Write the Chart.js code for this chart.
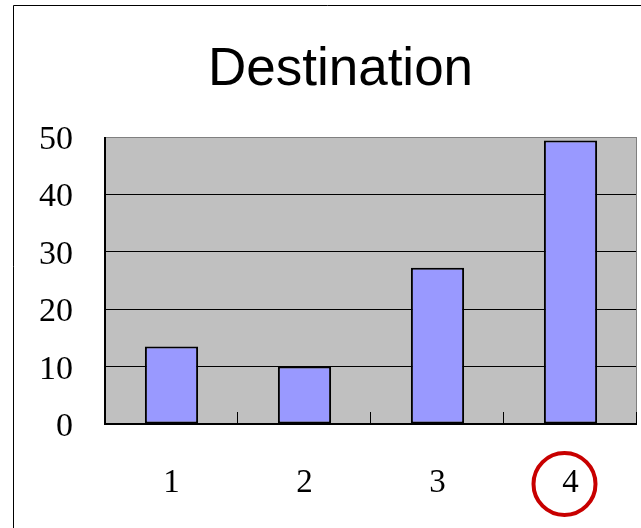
<!DOCTYPE html>
<html>
<head>
<meta charset="utf-8">
<script src="https://cdn.jsdelivr.net/npm/chart.js@4/dist/chart.umd.min.js"></script>
<style>
html,body{margin:0;padding:0;background:#fff;}
#wrap{position:relative;width:641px;height:528px;}
</style>
</head>
<body>
<div id="wrap"><canvas id="c" width="641" height="528"></canvas></div>
<script>
const categories = ['1', '2', '3', '4'];
const values = [13.5, 10, 27.2, 49.4];
const yTicks = [0, 10, 20, 30, 40, 50];
const titleText = 'Destination';
const highlightIndex = 3;

const framePlugin = {
  id: 'frame',
  afterLayout(chart) {
    const t = chart.titleBlock;
    if (t) { t.left = 44; t.right = chart.chartArea.right; }
  },
  beforeDraw(chart) {
    const ctx = chart.ctx, a = chart.chartArea;
    ctx.save();
    ctx.fillStyle = '#ffffff';
    ctx.fillRect(0, 0, chart.width, chart.height);
    ctx.strokeStyle = '#000';
    ctx.lineWidth = 1;
    ctx.beginPath();
    ctx.moveTo(13.5, chart.height);
    ctx.lineTo(13.5, 5.5);
    ctx.lineTo(chart.width, 5.5);
    ctx.stroke();
    ctx.fillStyle = '#C0C0C0';
    ctx.fillRect(a.left, a.top, a.right - a.left, a.bottom - a.top);
    ctx.restore();
  },
  afterDatasetsDraw(chart) {
    const ctx = chart.ctx, a = chart.chartArea, xs = chart.scales.x;
    ctx.save();
    ctx.strokeStyle = '#808080';
    ctx.lineWidth = 1;
    ctx.beginPath();
    ctx.moveTo(a.left, a.top + 0.5);
    ctx.lineTo(a.right - 0.5, a.top + 0.5);
    ctx.lineTo(a.right - 0.5, a.bottom);
    ctx.stroke();
    ctx.strokeStyle = '#000';
    const step = xs.getPixelForValue(1) - xs.getPixelForValue(0);
    for (let i = 0; i < categories.length; i++) {
      const x = Math.round(xs.getPixelForValue(i) + step / 2) - 0.5;
      ctx.beginPath();
      ctx.moveTo(x, a.bottom);
      ctx.lineTo(x, a.bottom - 12);
      ctx.stroke();
    }
    ctx.lineWidth = 2;
    ctx.beginPath();
    ctx.moveTo(a.left, a.top);
    ctx.lineTo(a.left, a.bottom);
    ctx.lineTo(a.right, a.bottom);
    ctx.stroke();
    ctx.restore();
  },
  afterDraw(chart) {
    const ctx = chart.ctx, xs = chart.scales.x, a = chart.chartArea;
    const cx = xs.getPixelForValue(highlightIndex) - 6;
    const cy = a.bottom + 60;
    ctx.save();
    ctx.strokeStyle = '#C80000';
    ctx.lineWidth = 4;
    ctx.beginPath();
    ctx.arc(cx, cy, 31, 0, Math.PI * 2);
    ctx.stroke();
    ctx.restore();
  }
};

new Chart(document.getElementById('c'), {
  type: 'bar',
  data: {
    labels: categories,
    datasets: [{
      data: values,
      backgroundColor: '#9999FF',
      borderColor: '#000000',
      borderWidth: 2,
      borderSkipped: false,
      barPercentage: 0.4,
      categoryPercentage: 1.0
    }]
  },
  options: {
    responsive: false,
    animation: false,
    devicePixelRatio: 1,
    layout: { padding: { left: 0, right: 4, top: 0, bottom: 0 } },
    plugins: {
      legend: { display: false },
      tooltip: { enabled: false },
      title: {
        display: true,
        text: titleText,
        color: '#000',
        font: { family: 'Liberation Sans', size: 53, weight: 'normal', lineHeight: 1.2 },
        padding: { top: 39, bottom: 34.4 }
      }
    },
    scales: {
      x: {
        grid: { display: false, drawTicks: false },
        border: { display: false },
        ticks: {
          color: '#000',
          padding: 40,
          font: { family: 'Liberation Serif', size: 33 }
        },
        afterFit(scale) { scale.height = 104; }
      },
      y: {
        min: 0,
        max: 50,
        afterBuildTicks(scale) { scale.ticks = yTicks.map(v => ({ value: v })); },
        grid: {
          drawTicks: false,
          color: ctx => (ctx.tick && ctx.tick.value === 50) ? '#808080' : '#000000',
          lineWidth: 1
        },
        border: { display: false },
        ticks: {
          color: '#000',
          padding: 32,
          labelOffset: 3,
          font: { family: 'Liberation Serif', size: 34 }
        },
        afterFit(scale) { scale.width = 105; }
      }
    }
  },
  plugins: [framePlugin]
});
</script>
</body>
</html>
